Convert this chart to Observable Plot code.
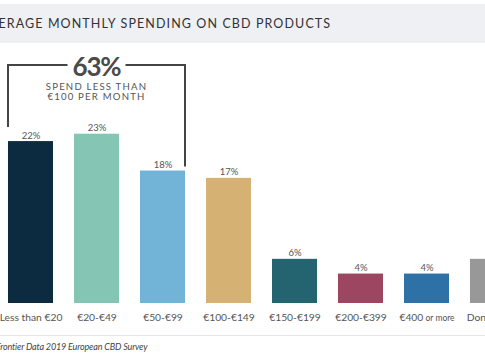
<!DOCTYPE html>
<html><head><meta charset="utf-8">
<script src="https://cdn.jsdelivr.net/npm/d3@7"></script>
<script src="https://cdn.jsdelivr.net/npm/@observablehq/plot@0.6"></script>
<style>
body{margin:0;width:485px;height:360px;overflow:hidden;background:#fff;font-family:Lato,"Open Sans",sans-serif;}
#head{position:absolute;left:0;top:4px;width:485px;height:39px;background:#eef0f3;}
#head span{position:absolute;left:-20px;top:12px;font-size:12.5px;letter-spacing:1.1px;color:#333;white-space:nowrap;}
#chart{position:absolute;left:0;top:43px;}
#rule{position:absolute;left:0;top:335px;width:485px;height:1px;background:#e6e6e6;}
#cap{position:absolute;left:-4px;top:341px;font-size:9px;letter-spacing:-0.15px;font-style:italic;color:#444;white-space:nowrap;}
</style></head>
<body>
<div id="head"><span>AVERAGE MONTHLY SPENDING ON CBD PRODUCTS</span></div>
<div id="chart"></div>
<div id="rule"></div>
<div id="cap">Frontier Data 2019 European CBD Survey</div>
<script>
const categories = ["Less than €20","€20-€49","€50-€99","€100-€149","€150-€199","€200-€399","€400 or more","Don't know"];
const values = [22,23,18,17,6,4,4,6];
const colors = ["#0c2a40","#85c5b3","#72b4d7","#d5b274","#246470","#9d4661","#2d71a6","#989898"];
const calloutValue = "63%";
const calloutText = ["SPEND LESS THAN","€100 PER MONTH"];

const data = categories.map((c,i)=>({cat:c, v:values[i]}));

const chart = Plot.plot({
  width: 485, height: 292,
  marginTop: 76, marginBottom: 32, marginLeft: 0, marginRight: 0,
  style:{fontFamily:"Lato, 'Open Sans', sans-serif", overflow:"visible"},
  x:{domain:categories, range:[8,520], paddingInner:0.325, paddingOuter:0, align:0, label:null, axis:null},
  y:{domain:[0,25], axis:null},
  color:{domain:categories, range:colors},
  marks:[
    Plot.barY(data,{x:"cat", y:"v", fill:"cat"}),
    Plot.text(data,{x:"cat", y:"v", text:d=>d.v+"%", dy:-6, fontSize:9.5, fill:"#555"}),
    Plot.text(data,{x:"cat", text:"cat", frameAnchor:"bottom", dy:17, fontSize:10.3, fill:"#555"})
  ]
});
document.getElementById("chart").appendChild(chart);

// smaller "or more" as in the reference
d3.select(chart).selectAll("text").each(function(){
  const t = this.textContent;
  if (t.endsWith(" or more") && this.childNodes.length===1 && this.firstChild.nodeType===3) {
    const base = t.slice(0, -8);
    this.textContent = "";
    d3.select(this).append("tspan").text(base);
    d3.select(this).append("tspan").attr("font-size", 8.5).text(" or more");
  }
});

// bracket annotation from scales
const xs = chart.scale("x"), ys = chart.scale("y");
const bw = xs.bandwidth;
const left = xs.apply(categories[0]);
const right = xs.apply(categories[2]) + bw;
const mid = (left + right)/2;
const topY = 22;
const svg = d3.select(chart);
const g = svg.append("g");
const gapHalf = 29;
g.append("path")
  .attr("d", `M${left},${ys.apply(values[0])-14}V${topY}H${mid-gapHalf}M${mid+gapHalf},${topY}H${right}V${ys.apply(values[2])-4}`)
  .attr("fill","none").attr("stroke","#444").attr("stroke-width",2);
g.append("text").attr("x",mid).attr("y",topY+11).attr("text-anchor","middle")
  .attr("font-size",26).attr("font-weight",700).attr("letter-spacing",-1.2).attr("fill","#4a4a4a").text(calloutValue);
calloutText.forEach((t,i)=>{
  g.append("text").attr("x",mid).attr("y",topY+24.5+i*10.5).attr("text-anchor","middle")
    .attr("font-size",9.6).attr("letter-spacing",1.2).attr("fill","#555").text(t);
});
</script>
</body></html>
